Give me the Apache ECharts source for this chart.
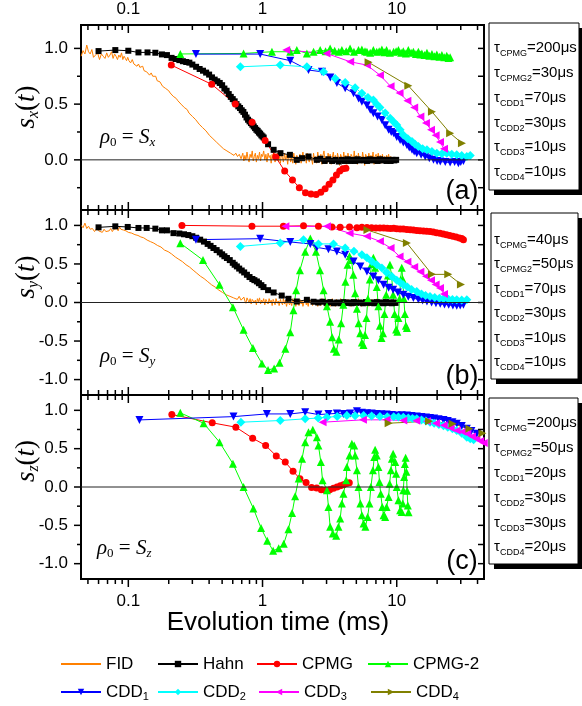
<!DOCTYPE html>
<html><head><meta charset="utf-8">
<script src="https://cdn.jsdelivr.net/npm/echarts@6/dist/echarts.min.js"></script>
<style>html,body{margin:0;padding:0;background:#fff}#c{width:582px;height:706px}</style>
</head><body><div id="c"></div><script>
// ---------- axis ticks / labels ----------
const X_MIN = 0.0444, X_MAX = 44.7;
const xMajorTicks = [0.1, 1, 10];
const xTickLabels = ['0.1', '1', '10'];
const xMinorTicks = [0.05,0.06,0.07,0.08,0.09,0.2,0.3,0.4,0.5,0.6,0.7,0.8,0.9,2,3,4,5,6,7,8,9,20,30,40];
const yMajorA = [0, 0.5, 1.0];
const yLabelsA = ['0.0', '0.5', '1.0'];
const yMinorA = [-0.25, 0.25, 0.75];
const yMajorBC = [-1.0, -0.5, 0, 0.5, 1.0];
const yLabelsBC = ['-1.0', '-0.5', '0.0', '0.5', '1.0'];
const yMinorBC = [-0.75, -0.25, 0.25, 0.75];

// ---------- FID (orange) : early decay as pairs, noisy tail as times + values ----------
const fidEarlyA = [[0.0445,0.93],[0.046,0.98],[0.0475,0.95],[0.049,1.03],[0.0505,0.97],[0.052,0.95],[0.0535,0.99],[0.055,0.92],[0.057,0.94],[0.059,0.96],[0.061,0.9],[0.063,0.95],[0.065,0.93],[0.067,0.91],[0.069,0.96],[0.071,0.92],[0.073,0.94],[0.075,0.97],[0.077,0.91],[0.079,0.95],[0.081,0.93],[0.083,0.9],[0.085,0.94],[0.087,0.92],[0.089,0.96],[0.091,0.9],[0.093,0.93],[0.095,0.91],[0.097,0.89],[0.099,0.92],[0.101,0.89],[0.104,0.87],[0.107,0.9],[0.11,0.86],[0.113,0.87],[0.116,0.84],[0.119,0.86],[0.122,0.83],[0.125,0.82],[0.128,0.84],[0.131,0.8],[0.134,0.81],[0.137,0.79],[0.14,0.8],[0.144,0.76],[0.148,0.78],[0.152,0.75],[0.156,0.74],[0.16,0.75],[0.164,0.71],[0.168,0.72],[0.172,0.7],[0.176,0.69],[0.18,0.66],[0.185,0.67],[0.19,0.64],[0.195,0.63],[0.2,0.62],[0.205,0.6],[0.21,0.61],[0.216,0.57],[0.222,0.56],[0.228,0.55],[0.234,0.53],[0.24,0.52],[0.247,0.5],[0.254,0.5],[0.261,0.47],[0.268,0.46],[0.275,0.45],[0.283,0.42],[0.291,0.42],[0.3,0.39],[0.309,0.38],[0.318,0.36],[0.327,0.35],[0.337,0.32],[0.347,0.32],[0.357,0.29],[0.368,0.28],[0.379,0.26],[0.39,0.26],[0.402,0.22],[0.414,0.22],[0.427,0.19],[0.44,0.19],[0.453,0.16],[0.467,0.15],[0.481,0.13],[0.496,0.13],[0.511,0.1],[0.527,0.11],[0.543,0.08],[0.56,0.09],[0.577,0.06],[0.595,0.07],[0.613,0.04],[0.632,0.06],[0.651,0.03],[0.671,0.05],[0.692,0.01]];
const fidEarlyB = [[0.0445,1.0],[0.046,0.97],[0.0475,1.03],[0.049,0.96],[0.0505,0.99],[0.052,0.95],[0.054,0.96],[0.056,0.92],[0.058,0.96],[0.06,0.93],[0.062,0.94],[0.064,0.91],[0.066,0.95],[0.068,0.92],[0.07,0.94],[0.072,0.93],[0.074,0.96],[0.076,0.92],[0.078,0.95],[0.08,0.94],[0.082,0.96],[0.084,0.93],[0.086,0.98],[0.088,0.95],[0.09,0.97],[0.092,0.94],[0.094,0.96],[0.096,0.93],[0.098,0.94],[0.1,0.91],[0.103,0.92],[0.106,0.9],[0.109,0.91],[0.112,0.88],[0.115,0.89],[0.118,0.87],[0.121,0.88],[0.124,0.85],[0.127,0.86],[0.13,0.84],[0.134,0.84],[0.138,0.81],[0.142,0.83],[0.146,0.79],[0.15,0.8],[0.155,0.77],[0.16,0.78],[0.165,0.74],[0.17,0.75],[0.175,0.72],[0.18,0.72],[0.186,0.68],[0.192,0.69],[0.198,0.66],[0.204,0.65],[0.21,0.63],[0.217,0.63],[0.224,0.59],[0.231,0.6],[0.238,0.56],[0.245,0.57],[0.253,0.53],[0.261,0.53],[0.269,0.49],[0.277,0.49],[0.286,0.46],[0.295,0.45],[0.304,0.42],[0.314,0.42],[0.324,0.38],[0.334,0.38],[0.345,0.34],[0.356,0.34],[0.367,0.31],[0.379,0.31],[0.391,0.27],[0.404,0.27],[0.417,0.23],[0.43,0.24],[0.444,0.2],[0.458,0.2],[0.473,0.16],[0.488,0.17],[0.504,0.13],[0.52,0.14],[0.537,0.1],[0.554,0.12],[0.572,0.08],[0.59,0.1],[0.609,0.06],[0.629,0.08],[0.649,0.04],[0.67,0.08],[0.692,0.03]];
const fidTailT = [0.70,0.713,0.726,0.739,0.752,0.766,0.78,0.794,0.808,0.823,0.838,0.853,0.868,0.884,0.9,0.916,0.933,0.95,0.967,0.984,1.0,1.02,1.04,1.06,1.08,1.1,1.12,1.14,1.16,1.18,1.2,1.22,1.24,1.26,1.29,1.31,1.33,1.36,1.38,1.41,1.43,1.46,1.48,1.51,1.54,1.56,1.59,1.62,1.65,1.68,1.71,1.74,1.77,1.8,1.83,1.87,1.9,1.94,1.97,2.0,2.04,2.08,2.12,2.15,2.19,2.23,2.27,2.31,2.36,2.4,2.44,2.49,2.53,2.58,2.62,2.67,2.72,2.77,2.82,2.87,2.92,2.97,3.03,3.08,3.14,3.19,3.25,3.31,3.37,3.43,3.49,3.56,3.62,3.69,3.75,3.82,3.89,3.96,4.03,4.1,4.18,4.25,4.33,4.41,4.49,4.57,4.65,4.74,4.82,4.91,5.0,5.09,5.18,5.27,5.37,5.47,5.57,5.67,5.77,5.87,5.98,6.09,6.2,6.31,6.42,6.54,6.66,6.78,6.9,7.02,7.15,7.28,7.41,7.54,7.68,7.82,7.96,8.1,8.25,8.4,8.55,8.7,8.86,9.02,9.18,9.35,9.52,9.69,9.86,10.0];
const fidTailA = [0.02,0.06,-0.01,0.04,0.0,0.07,0.01,-0.02,0.05,0.02,0.08,-0.01,0.03,0.06,-0.02,0.04,0.01,0.07,-0.01,0.05,
0.03,0.08,0.0,0.05,-0.02,0.06,0.02,0.04,-0.03,0.05,0.01,0.07,-0.02,0.03,0.06,-0.01,0.04,-0.03,0.05,0.02,
-0.02,0.06,0.0,0.04,-0.04,0.03,0.05,-0.02,0.02,-0.03,0.06,0.0,-0.04,0.04,0.01,-0.02,0.05,-0.03,0.03,0.07,
-0.01,0.04,-0.03,0.06,0.01,-0.02,0.05,0.02,-0.04,0.06,0.0,0.03,-0.03,0.07,0.01,-0.02,0.05,-0.04,0.04,0.08,
-0.01,0.03,-0.03,0.06,0.0,0.05,-0.04,0.02,0.07,-0.02,0.04,-0.03,0.06,0.01,-0.05,0.05,0.02,-0.02,0.07,0.0,
0.04,-0.04,0.06,0.01,-0.03,0.05,0.03,-0.02,0.08,-0.01,0.04,-0.04,0.06,0.0,0.03,-0.03,0.07,0.01,-0.05,0.05,
0.02,-0.02,0.06,-0.03,0.04,0.0,0.07,-0.04,0.03,0.05,-0.02,0.06,-0.01,0.04,-0.03,0.05,0.0,0.03,-0.02,0.04,
0.01,0.05,-0.02,0.03,0.0,0.02];
const fidTailB = [0.05,0.01,0.07,0.02,-0.01,0.06,0.03,0.0,0.05,-0.02,0.04,0.06,0.0,0.03,-0.03,0.05,0.01,0.06,-0.02,0.03,
0.0,0.05,-0.03,0.04,0.01,-0.02,0.05,0.0,0.03,-0.04,0.04,0.01,-0.03,0.05,-0.01,0.02,-0.04,0.04,0.0,-0.03,
0.05,-0.02,0.03,-0.05,0.02,0.04,-0.03,0.01,-0.04,0.05,-0.01,0.03,-0.05,0.02,0.0,-0.04,0.04,-0.02,0.03,-0.05,
0.01,0.04,-0.03,0.02,-0.05,0.05,-0.01,0.03,-0.04,0.01,0.04,-0.03,0.02,-0.05,0.03,0.0,-0.04,0.05,-0.02,0.01,
-0.05,0.04,0.0,-0.03,0.03,-0.05,0.02,0.05,-0.03,0.0,-0.05,0.04,-0.01,0.02,-0.04,0.05,-0.02,0.01,-0.05,0.03,
0.0,-0.04,0.04,-0.02,0.02,-0.05,0.03,-0.01,0.04,-0.04,0.01,-0.03,0.05,-0.02,0.0,-0.05,0.03,0.01,-0.04,0.04,
-0.02,0.02,-0.05,0.03,-0.01,0.04,-0.04,0.0,0.03,-0.03,0.05,-0.02,0.01,-0.04,0.03,0.0,-0.03,0.04,-0.02,0.02,
-0.03,0.03,-0.01,0.02,-0.02,0.0];

// ---------- panel (a): rho0 = Sx ----------
const hahnA = [[0.06,0.976],[0.08,0.985],[0.1,0.979],[0.119,0.964],[0.139,0.964],[0.159,0.961],[0.178,0.946],[0.194,0.94],[0.21,0.915],[0.225,0.905],[0.24,0.895],[0.255,0.885],[0.27,0.878],[0.285,0.872],[0.3,0.855],[0.32,0.835],[0.34,0.815],[0.36,0.8],[0.38,0.783],[0.4,0.765],[0.42,0.74],[0.44,0.72],[0.46,0.705],[0.48,0.69],[0.5,0.67],[0.52,0.64],[0.54,0.62],[0.56,0.59],[0.58,0.565],[0.6,0.545],[0.62,0.525],[0.64,0.5],[0.66,0.48],[0.68,0.465],[0.7,0.445],[0.72,0.43],[0.74,0.405],[0.76,0.38],[0.78,0.36],[0.8,0.345],[0.82,0.33],[0.84,0.315],[0.86,0.3],[0.88,0.285],[0.9,0.27],[0.92,0.26],[0.94,0.245],[0.96,0.235],[0.98,0.22],[1.0,0.21],[1.02,0.2],[1.1,0.14],[1.21,0.09],[1.36,0.06],[1.6,0.045],[1.8,0.0],[1.97,0.015],[2.2,0.03],[2.54,0.0],[2.7,0.01],[2.9,-0.01],[3.1,0.005],[3.3,-0.01],[3.5,0.0],[3.7,-0.015],[3.9,0.0],[4.1,-0.01],[4.3,0.005],[4.5,-0.01],[4.7,0.0],[4.9,-0.01],[5.1,0.005],[5.4,-0.005],[5.7,0.0],[6.0,-0.01],[6.3,0.005],[6.6,-0.005],[6.9,0.0],[7.2,-0.01],[7.5,0.005],[7.8,-0.005],[8.1,0.0],[8.4,-0.01],[8.7,0.0],[9.0,-0.01],[9.3,0.0],[9.6,-0.005],[9.9,0.0]];
const cpmgA = [[0.209,0.85],[0.418,0.678],[0.627,0.501],[0.836,0.337],[1.045,0.173],[1.254,0.025],[1.463,-0.1],[1.672,-0.18],[1.881,-0.25],[2.09,-0.295],[2.299,-0.307],[2.508,-0.31],[2.717,-0.29],[2.926,-0.26],[3.135,-0.22],[3.344,-0.18],[3.553,-0.135],[3.762,-0.1],[3.971,-0.08],[4.18,-0.075]];
const cpmg2A = [[0.244,0.95],[0.722,0.955],[1.175,0.97],[1.61,0.97],[1.8,0.985],[2.14,0.955],[2.4,0.97],[2.69,0.985],[2.95,0.975],[3.19,1.0],[3.45,0.98],[3.7,0.97],[3.9,0.985],[4.2,0.975],[4.49,1.0],[4.8,0.97],[5.19,0.985],[5.5,0.99],[5.8,0.975],[6.0,0.97],[6.34,0.96],[6.7,0.985],[7.1,0.97],[7.4,0.975],[7.75,0.99],[8.1,0.965],[8.4,0.985],[8.9,0.96],[9.48,0.97],[9.9,0.975],[10.3,0.985],[10.8,0.96],[11.2,0.975],[11.7,0.955],[12.2,0.985],[12.8,0.96],[13.3,0.97],[13.9,0.95],[14.5,0.97],[15.0,0.945],[15.4,0.955],[16.1,0.94],[16.8,0.96],[17.5,0.935],[18.3,0.95],[19.1,0.93],[19.9,0.945],[20.8,0.925],[21.7,0.94],[22.6,0.92],[23.6,0.935],[24.3,0.915],[25.0,0.92]];
const cdd1A = [[0.319,0.949],[0.961,0.949],[1.61,0.89],[2.2,0.806],[2.77,0.79],[3.2,0.74],[3.58,0.69],[4.13,0.642],[4.77,0.597],[5.2,0.55],[5.5,0.522],[6.0,0.49],[6.35,0.45],[6.7,0.418],[7.2,0.39],[7.75,0.358],[8.2,0.31],[8.7,0.269],[9.1,0.25],[9.5,0.239],[10.0,0.205],[10.6,0.179],[11.2,0.155],[11.9,0.134],[12.4,0.11],[13.0,0.09],[13.5,0.075],[14.1,0.06],[15.2,0.045],[16.3,0.03],[17.5,0.015],[18.8,0.0],[20.0,-0.01],[21.1,-0.015],[23.0,-0.02],[25.0,-0.024],[27.0,-0.02],[28.8,-0.03],[30.0,-0.02],[31.4,-0.01]];
const cdd2A = [[0.684,0.835],[1.355,0.85],[2.14,0.835],[2.85,0.79],[3.48,0.73],[4.13,0.695],[4.9,0.648],[5.5,0.597],[6.1,0.56],[6.7,0.537],[7.1,0.5],[7.5,0.469],[8.2,0.42],[8.94,0.373],[9.5,0.34],[10.0,0.313],[10.6,0.27],[11.2,0.224],[12.1,0.19],[13.0,0.164],[13.7,0.14],[14.5,0.119],[15.6,0.1],[16.8,0.09],[18.3,0.075],[19.9,0.06],[21.7,0.055],[23.6,0.06],[25.7,0.05],[28.0,0.045],[30.5,0.04],[33.3,0.03],[35.3,0.04]];
const cdd3A = [[1.5,0.985],[3.0,0.955],[4.5,0.88],[6.0,0.85],[7.5,0.76],[9.0,0.66],[10.5,0.6],[12.0,0.53],[13.5,0.47],[15.0,0.39],[16.5,0.33],[18.0,0.27],[19.5,0.22],[21.0,0.16],[22.5,0.1]];
const cdd4A = [[6.17,0.875],[12.2,0.665],[18.3,0.432],[25.0,0.239],[30.6,0.15]];

// ---------- panel (b): rho0 = Sy ----------
const hahnB = [[0.06,0.975],[0.08,0.988],[0.099,0.98],[0.119,0.967],[0.137,0.967],[0.159,0.958],[0.178,0.936],[0.194,0.936],[0.217,0.9],[0.24,0.895],[0.26,0.885],[0.28,0.875],[0.3,0.86],[0.32,0.84],[0.343,0.815],[0.366,0.79],[0.39,0.76],[0.41,0.735],[0.431,0.707],[0.455,0.68],[0.48,0.65],[0.5,0.625],[0.52,0.6],[0.543,0.577],[0.57,0.55],[0.6,0.515],[0.62,0.49],[0.644,0.468],[0.67,0.44],[0.7,0.415],[0.73,0.39],[0.765,0.36],[0.8,0.33],[0.84,0.305],[0.87,0.29],[0.908,0.273],[0.94,0.25],[0.98,0.225],[1.017,0.2],[1.1,0.16],[1.21,0.13],[1.39,0.09],[1.56,0.048],[1.8,0.013],[2.14,0.035],[2.4,0.01],[2.6,0.0],[2.8,0.01],[3.0,-0.005],[3.2,0.005],[3.4,-0.01],[3.6,0.0],[3.8,-0.01],[4.0,0.005],[4.2,-0.005],[4.4,0.0],[4.6,-0.01],[4.8,0.005],[5.0,-0.005],[5.3,0.0],[5.6,-0.01],[5.9,0.005],[6.2,-0.005],[6.5,0.0],[6.8,-0.01],[7.1,0.005],[7.4,-0.005],[7.7,0.0],[8.0,-0.01],[8.3,0.005],[8.6,-0.005],[8.9,0.0],[9.2,-0.01],[9.5,0.0],[9.8,-0.005]];
const cpmgB = [[0.251,1.0],[0.834,0.99],[1.43,0.99],[2.02,0.995],[2.61,0.99],[3.29,0.98],[3.79,0.975],[4.45,0.98],[5.05,0.97],[5.5,0.975],[6.0,0.972],[6.5,0.97],[7.0,0.968],[7.5,0.965],[8.0,0.968],[8.5,0.962],[9.0,0.96],[9.5,0.962],[10.0,0.958],[10.6,0.955],[11.2,0.952],[11.9,0.948],[12.6,0.945],[13.3,0.94],[14.1,0.935],[14.9,0.932],[15.8,0.928],[16.7,0.925],[17.7,0.92],[18.7,0.915],[19.8,0.905],[21.0,0.9],[22.2,0.89],[23.5,0.88],[24.8,0.87],[26.2,0.86],[27.7,0.85],[29.3,0.838],[30.5,0.83],[31.4,0.815]];
const cpmg2B = [[0.244,0.77],[0.36,0.55],[0.478,0.23],[0.602,-0.06],[0.722,-0.355],[0.848,-0.59],[0.99,-0.79],[1.1,-0.875],[1.22,-0.855],[1.34,-0.78],[1.48,-0.6],[1.61,-0.385],[1.7,-0.1],[1.78,0.16],[1.9,0.42],[2.08,0.66],[2.27,0.83],[2.5,0.66],[2.68,0.42],[2.85,0.16],[3.02,-0.05],[3.19,-0.25],[3.3,-0.45],[3.4,-0.6],[3.55,-0.64],[3.7,-0.48],[3.85,-0.27],[4.0,-0.03],[4.15,0.27],[4.3,0.49],[4.45,0.6],[4.6,0.55],[4.75,0.36],[4.9,0.12],[5.05,-0.08],[5.2,-0.27],[5.35,-0.4],[5.5,-0.52],[5.65,-0.55],[5.8,-0.42],[5.95,-0.2],[6.1,0.05],[6.3,0.3],[6.5,0.5],[6.7,0.58],[6.9,0.45],[7.1,0.2],[7.3,-0.05],[7.5,-0.3],[7.7,-0.46],[7.9,-0.4],[8.1,-0.15],[8.35,0.1],[8.6,0.35],[8.9,0.49],[9.15,0.35],[9.4,0.1],[9.65,-0.15],[9.9,-0.35],[10.1,-0.38],[10.3,-0.2],[10.5,0.05],[10.7,0.3],[10.9,0.45],[11.1,0.3],[11.3,0.05],[11.5,-0.15],[11.7,-0.3],[11.9,-0.33]];
const cdd1B = [[0.319,0.815],[0.961,0.828],[1.61,0.785],[2.27,0.76],[2.54,0.715],[3.1,0.69],[3.58,0.663],[4.13,0.62],[4.77,0.533],[5.36,0.468],[6.0,0.403],[6.7,0.338],[7.3,0.29],[7.98,0.23],[8.7,0.19],[9.4,0.165],[10.2,0.13],[11.2,0.1],[12.2,0.075],[13.3,0.057],[14.5,0.04],[15.6,0.025],[16.8,0.013],[18.2,0.0],[19.6,-0.01],[21.1,-0.017],[22.7,-0.025],[24.4,-0.03],[26.2,-0.038],[28.0,-0.043],[29.7,-0.04],[31.4,-0.03]];
const cdd2B = [[0.684,0.728],[1.355,0.772],[2.02,0.815],[2.61,0.76],[3.38,0.76],[4.13,0.707],[4.8,0.665],[5.5,0.62],[6.0,0.58],[6.53,0.533],[7.1,0.49],[7.75,0.447],[8.4,0.39],[9.2,0.338],[10.0,0.29],[10.6,0.26],[11.2,0.23],[12.0,0.2],[12.9,0.17],[14.1,0.143],[15.3,0.11],[16.4,0.09],[17.7,0.078],[19.2,0.065],[20.8,0.055],[22.3,0.048],[24.3,0.042],[26.0,0.038],[28.0,0.035],[30.5,0.033],[33.3,0.035]];
const cdd3B = [[1.48,0.988],[3.02,0.988],[4.45,0.9],[6.0,0.858],[7.5,0.793],[9.0,0.707],[10.5,0.598],[12.0,0.53],[13.5,0.46],[15.0,0.4],[16.5,0.34],[18.0,0.29],[19.5,0.235],[21.0,0.187],[22.5,0.11]];
const cdd4B = [[6.05,0.94],[11.9,0.772],[18.3,0.365],[24.2,0.365],[30.1,0.235]];

// ---------- panel (c): rho0 = Sz ----------
const cpmgC = [[0.211,0.945],[0.422,0.837],[0.633,0.78],[0.844,0.637],[1.055,0.542],[1.266,0.405],[1.477,0.325],[1.688,0.206],[1.899,0.109],[2.11,0.06],[2.321,-0.008],[2.532,-0.013],[2.743,-0.035],[2.954,-0.043],[3.165,-0.035],[3.376,-0.015],[3.587,0.0],[3.798,0.015],[4.009,0.03],[4.22,0.045],[4.431,0.057]];
const cpmg2C = [[0.244,0.967],[0.364,0.832],[0.478,0.585],[0.602,0.303],[0.722,0.0],[0.855,-0.28],[0.975,-0.535],[1.085,-0.7],[1.2,-0.832],[1.32,-0.8],[1.44,-0.74],[1.56,-0.55],[1.66,-0.34],[1.75,-0.12],[1.86,0.11],[1.97,0.369],[2.08,0.585],[2.2,0.715],[2.37,0.746],[2.54,0.65],[2.61,0.542],[2.72,0.325],[2.8,0.087],[3.02,-0.043],[3.1,-0.26],[3.19,-0.52],[3.34,-0.606],[3.54,-0.637],[3.68,-0.52],[3.79,-0.411],[3.9,-0.216],[4.01,-0.087],[4.2,0.087],[4.25,0.26],[4.45,0.412],[4.63,0.564],[4.82,0.542],[4.9,0.412],[5.05,0.217],[5.19,0.0],[5.36,-0.216],[5.5,-0.368],[5.66,-0.476],[5.84,-0.52],[6.07,-0.39],[6.26,-0.216],[6.42,0.0],[6.65,0.217],[6.8,0.39],[6.9,0.486],[7.1,0.412],[7.3,0.26],[7.44,0.065],[7.6,-0.087],[7.8,-0.26],[7.98,-0.368],[8.2,-0.39],[8.4,-0.26],[8.7,-0.13],[8.85,0.043],[9.05,0.217],[9.2,0.369],[9.4,0.434],[9.75,0.325],[9.9,0.174],[10.0,0.0],[10.3,-0.173],[10.6,-0.303],[10.9,-0.325],[11.1,-0.216],[11.2,-0.043],[11.35,0.13],[11.5,0.3],[11.65,0.38],[11.8,0.2],[11.95,-0.05],[12.1,-0.24],[12.25,-0.33]];
const cdd1C = [[0.121,0.875],[0.608,0.918],[1.078,0.953],[1.61,0.953],[2.08,0.975],[2.61,0.945],[3.1,0.953],[3.58,0.96],[4.01,0.953],[4.5,0.96],[5.05,0.988],[5.5,0.97],[6.0,0.962],[6.5,0.96],[7.1,0.953],[7.7,0.95],[8.4,0.945],[9.2,0.94],[10.0,0.932],[10.9,0.935],[11.9,0.932],[12.9,0.925],[14.1,0.919],[15.3,0.912],[16.5,0.905],[17.7,0.9],[19.0,0.893],[20.5,0.885],[22.3,0.875],[24.0,0.862],[26.0,0.845],[28.0,0.824],[30.5,0.795],[33.3,0.759],[36.0,0.73],[39.5,0.694]];
const cdd2C = [[0.69,0.845],[1.355,0.867],[2.08,0.889],[2.6,0.9],[3.02,0.91],[3.6,0.92],[4.25,0.932],[4.9,0.93],[5.66,0.932],[6.5,0.925],[7.5,0.919],[8.5,0.915],[9.5,0.915],[10.3,0.912],[11.2,0.91],[12.2,0.9],[13.1,0.895],[14.1,0.889],[15.3,0.875],[16.5,0.86],[17.7,0.845],[19.0,0.83],[20.6,0.815],[22.3,0.8],[24.0,0.78],[26.0,0.76],[28.0,0.737],[30.5,0.7],[33.3,0.65],[35.3,0.63],[37.4,0.616]];
const cdd3C = [[2.8,0.845],[5.6,0.876],[8.4,0.876],[11.2,0.867],[14.0,0.865],[16.8,0.858],[19.6,0.832],[22.4,0.805],[25.2,0.77],[28.0,0.737],[30.8,0.72],[33.6,0.694],[36.4,0.66],[39.2,0.629],[42.0,0.6],[44.5,0.575]];
const cdd4C = [[8.7,0.832],[17.4,0.858],[26.1,0.824],[34.8,0.759],[43.5,0.702]];

// ---------- text ----------
const seriesNames = ['FID','Hahn','CPMG','CPMG-2','CDD1','CDD2','CDD3','CDD4'];
const tauLabelsA = [['CPMG','200'],['CPMG2','30'],['CDD1','70'],['CDD2','30'],['CDD3','10'],['CDD4','10']];
const tauLabelsB = [['CPMG','40'],['CPMG2','50'],['CDD1','70'],['CDD2','30'],['CDD3','10'],['CDD4','10']];
const tauLabelsC = [['CPMG','200'],['CPMG2','50'],['CDD1','20'],['CDD2','30'],['CDD3','30'],['CDD4','20']];
const panelTags = ['(a)','(b)','(c)'];
const yTitleSubs = ['x','y','z'];
const xTitle = 'Evolution time (ms)';

// ---------- build ----------
const fidA = fidEarlyA.concat(fidTailT.map((t,i) => [t, fidTailA[i]]));
const fidB = fidEarlyB.concat(fidTailT.map((t,i) => [t, fidTailB[i]]));
const panels = [
  {FID: fidA, Hahn: hahnA, CPMG: cpmgA, 'CPMG-2': cpmg2A, CDD1: cdd1A, CDD2: cdd2A, CDD3: cdd3A, CDD4: cdd4A},
  {FID: fidB, Hahn: hahnB, CPMG: cpmgB, 'CPMG-2': cpmg2B, CDD1: cdd1B, CDD2: cdd2B, CDD3: cdd3B, CDD4: cdd4B},
  {CPMG: cpmgC, 'CPMG-2': cpmg2C, CDD1: cdd1C, CDD2: cdd2C, CDD3: cdd3C, CDD4: cdd4C}
];
const styles = {
  'FID': {color:'#FF8000', symbol:'none', size:0, rot:0},
  'Hahn': {color:'#000000', symbol:'rect', size:6, rot:0},
  'CPMG': {color:'#FF0000', symbol:'circle', size:7, rot:0},
  'CPMG-2': {color:'#00FF00', symbol:'triangle', size:8, rot:0},
  'CDD1': {color:'#0000FF', symbol:'triangle', size:8, rot:180},
  'CDD2': {color:'#00FFFF', symbol:'diamond', size:9, rot:0},
  'CDD3': {color:'#FF00FF', symbol:'triangle', size:8, rot:90},
  'CDD4': {color:'#808000', symbol:'triangle', size:8, rot:-90}
};
const gridRects = [
  {left:81, top:25, width:403, height:185},
  {left:81, top:210, width:403, height:185},
  {left:81, top:395, width:403, height:184}
];
const yRanges = [[-0.45,1.21],[-1.2,1.2],[-1.2,1.2]];
const decoCfg = [
  {yMajor:yMajorA, yLabels:yLabelsA, yMinor:yMinorA, bottom:'in', topLabels:true, bottomLabels:false},
  {yMajor:yMajorBC, yLabels:yLabelsBC, yMinor:yMinorBC, bottom:'in', topLabels:false, bottomLabels:false},
  {yMajor:yMajorBC, yLabels:yLabelsBC, yMinor:yMinorBC, bottom:'out', topLabels:false, bottomLabels:true}
];
const SANS = '"Liberation Sans", Arial, sans-serif';
const SERIF = '"Liberation Serif", "Times New Roman", serif';

const grid = gridRects.map(r => Object.assign({show:true, borderColor:'#000', borderWidth:2, backgroundColor:'transparent', containLabel:false}, r));
const xAxis = gridRects.map((r,i) => ({type:'log', logBase:10, gridIndex:i, min:X_MIN, max:X_MAX,
  axisLine:{show:false}, axisTick:{show:false}, axisLabel:{show:false}, splitLine:{show:false}, minorTick:{show:false}}));
const yAxis = gridRects.map((r,i) => ({type:'value', gridIndex:i, min:yRanges[i][0], max:yRanges[i][1],
  axisLine:{show:false}, axisTick:{show:false}, axisLabel:{show:false}, splitLine:{show:false}}));

const series = [];
function decoSeries(gi) {
  const cfg = decoCfg[gi];
  const ymin = yRanges[gi][0], ymax = yRanges[gi][1];
  const items = [], meta = [];
  xMajorTicks.forEach((v,i) => { items.push([v, ymin, 0]); meta.push({k:'xM', label:xTickLabels[i]}); });
  xMinorTicks.forEach(v => { items.push([v, ymin, 1]); meta.push({k:'xm'}); });
  cfg.yMajor.forEach((v,i) => { items.push([X_MIN, v, 2]); meta.push({k:'yM', label:cfg.yLabels[i]}); });
  cfg.yMinor.forEach(v => { items.push([X_MIN, v, 3]); meta.push({k:'ym'}); });
  items.push([X_MIN, 0, 4]); meta.push({k:'zero'});
  const ls = {stroke:'#000', lineWidth:1.5};
  const font = '17px ' + SANS;
  return {
    type:'custom', name:'deco'+gi, xAxisIndex:gi, yAxisIndex:gi, silent:true, clip:false, z:5, animation:false,
    data: items,
    renderItem: function(params, api) {
      const m = meta[params.dataIndex];
      const x = api.value(0), y = api.value(1);
      const ch = [];
      if (m.k === 'xM' || m.k === 'xm') {
        const L = m.k === 'xM' ? 8 : 5;
        const pb = api.coord([x, ymin]), pt = api.coord([x, ymax]);
        ch.push({type:'line', shape:{x1:pt[0], y1:pt[1], x2:pt[0], y2:pt[1]+L}, style:ls});
        if (cfg.bottom === 'out') ch.push({type:'line', shape:{x1:pb[0], y1:pb[1], x2:pb[0], y2:pb[1]+L}, style:ls});
        else ch.push({type:'line', shape:{x1:pb[0], y1:pb[1], x2:pb[0], y2:pb[1]-L}, style:ls});
        if (m.label && cfg.topLabels) ch.push({type:'text', x:pt[0], y:pt[1]-16, style:{text:m.label, font:font, fill:'#000', align:'center', verticalAlign:'middle'}});
        if (m.label && cfg.bottomLabels) ch.push({type:'text', x:pb[0], y:pb[1]+22, style:{text:m.label, font:font, fill:'#000', align:'center', verticalAlign:'middle'}});
      } else if (m.k === 'yM' || m.k === 'ym') {
        const L = m.k === 'yM' ? 7 : 4;
        const pl = api.coord([X_MIN, y]), pr = api.coord([X_MAX, y]);
        ch.push({type:'line', shape:{x1:pl[0]-L, y1:pl[1], x2:pl[0], y2:pl[1]}, style:ls});
        ch.push({type:'line', shape:{x1:pr[0]-6, y1:pr[1], x2:pr[0], y2:pr[1]}, style:ls});
        if (m.label) ch.push({type:'text', x:pl[0]-13, y:pl[1], style:{text:m.label, font:font, fill:'#000', align:'right', verticalAlign:'middle'}});
      } else {
        const p0 = api.coord([X_MIN, 0]), p1 = api.coord([X_MAX, 0]);
        ch.push({type:'line', shape:{x1:p0[0], y1:p0[1], x2:p1[0], y2:p1[1]}, style:{stroke:'#222', lineWidth:1}});
      }
      return {type:'group', children:ch};
    }
  };
}
panels.forEach((pd, gi) => {
  series.push(decoSeries(gi));
  seriesNames.forEach(name => {
    if (!pd[name]) return;
    const s = styles[name];
    series.push({
      type:'line', name:name, xAxisIndex:gi, yAxisIndex:gi, data:pd[name],
      symbol:s.symbol, symbolSize:s.size, symbolRotate:s.rot, showSymbol: s.symbol !== 'none',
      lineStyle:{color:s.color, width:1}, itemStyle:{color:s.color},
      emphasis:{disabled:true}, animation:false, clip:true, z:3
    });
  });
});

// legends
const legendPos = [[60,654],[157,654],[256,654],[367,654],[60,682],[157,682],[258,682],[370,682]];
const legend = seriesNames.map((n,i) => ({
  data:[n], left:legendPos[i][0], top:legendPos[i][1], padding:0, itemWidth:40, itemHeight:8, itemGap:0,
  selectedMode:false,
  itemStyle: n === 'FID' ? {opacity:0} : {},
  formatter: nm => nm.indexOf('CDD') === 0 ? 'CDD{sub|' + nm.slice(3) + '}' : nm,
  textStyle:{fontSize:17, fontFamily:SANS, color:'#000', lineHeight:20,
    rich:{sub:{fontSize:11, fontFamily:SANS, color:'#000', lineHeight:4, verticalAlign:'bottom'}}}
}));

// graphic: boxes, labels, titles
const elements = [];
const boxes = [[489,23,90,167,tauLabelsA,[48,73,98,123,147,172]],[491,213,87,166,tauLabelsB,[240,264,289,313,338,362]],[489,398,89,166,tauLabelsC,[423,448,473,498,523,547]]];
boxes.forEach(b => {
  elements.push({type:'rect', shape:{x:b[0]+5, y:b[1]+5, width:b[2], height:b[3]}, style:{fill:'#000'}, z:1});
  elements.push({type:'rect', shape:{x:b[0], y:b[1], width:b[2], height:b[3]}, style:{fill:'#fff', stroke:'#000', lineWidth:1}, z:2});
  b[4].forEach((t, j) => {
    elements.push({type:'text', x:494, y:b[5][j], z:3, style:{
      text:'{m|τ}{s|' + t[0] + '}{m|=' + t[1] + 'μs}', align:'left', verticalAlign:'middle', fill:'#000',
      rich:{m:{fontSize:15, fontFamily:SANS, fill:'#000', lineHeight:20}, s:{fontSize:9, fontFamily:SANS, fill:'#000', lineHeight:8, verticalAlign:'bottom'}}
    }});
  });
});
const tagY = [192, 377, 562];
panelTags.forEach((t,i) => elements.push({type:'text', x:462, y:tagY[i], z:3, style:{text:t, font:'27px ' + SANS, fill:'#000', align:'center', verticalAlign:'middle'}}));
const yTitleY = [107, 277, 461];
yTitleSubs.forEach((sub,i) => elements.push({type:'text', x:27, y:yTitleY[i], rotation:Math.PI/2, z:3, style:{
  text:'{i|s}{b|' + sub + '}{n|(}{i|t}{n|)}', align:'center', verticalAlign:'middle', fill:'#000',
  rich:{i:{fontSize:27, fontStyle:'italic', fontFamily:SERIF, lineHeight:30, fill:'#000'},
        n:{fontSize:27, fontFamily:SERIF, lineHeight:30, fill:'#000'},
        b:{fontSize:16, fontStyle:'italic', fontFamily:SERIF, lineHeight:12, verticalAlign:'bottom', fill:'#000'}}
}}));
const rhoPos = [[100,137],[100,356],[97,548]];
yTitleSubs.forEach((sub,i) => elements.push({type:'text', x:rhoPos[i][0], y:rhoPos[i][1], z:3, style:{
  text:'{i|ρ}{b|0}{n| = }{i|S}{c|' + sub + '}', align:'left', verticalAlign:'middle', fill:'#000',
  rich:{i:{fontSize:21, fontStyle:'italic', fontFamily:SERIF, lineHeight:24, fill:'#000'},
        n:{fontSize:21, fontFamily:SERIF, lineHeight:24, fill:'#000'},
        b:{fontSize:13, fontFamily:SERIF, lineHeight:8, verticalAlign:'bottom', fill:'#000'},
        c:{fontSize:13, fontStyle:'italic', fontFamily:SERIF, lineHeight:8, verticalAlign:'bottom', fill:'#000'}}
}}));
elements.push({type:'text', x:278, y:623, z:3, style:{text:xTitle, font:'26px ' + SANS, fill:'#000', align:'center', verticalAlign:'middle'}});

const chart = echarts.init(document.getElementById('c'), null, {renderer:'canvas'});
chart.setOption({
  animation:false,
  backgroundColor:'#fff',
  textStyle:{fontFamily:SANS},
  grid: grid, xAxis: xAxis, yAxis: yAxis, series: series, legend: legend,
  graphic:{elements: elements}
});
</script></body></html>
